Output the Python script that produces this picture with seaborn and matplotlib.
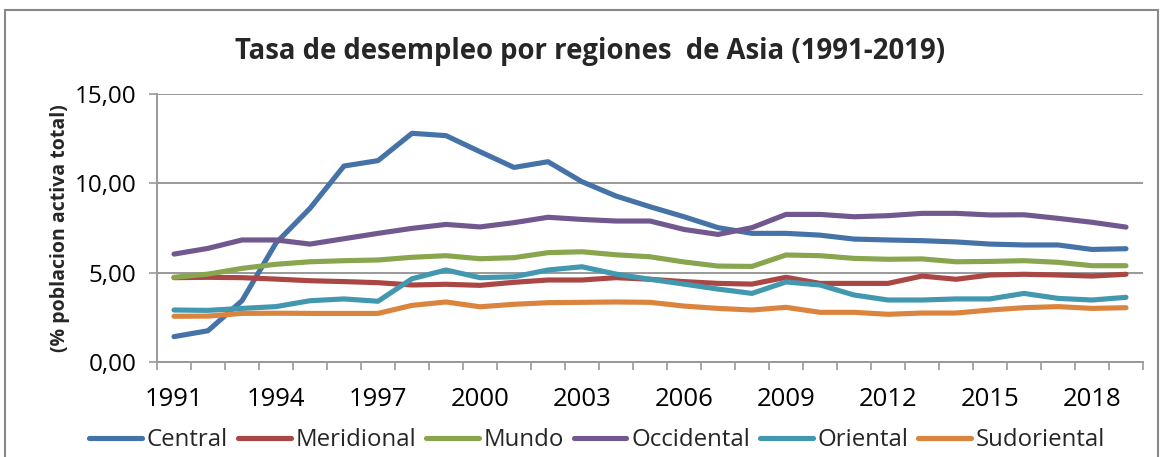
import numpy as np
import pandas as pd
import matplotlib
matplotlib.use("Agg")
import matplotlib.pyplot as plt
from matplotlib.ticker import FixedLocator, FuncFormatter
import seaborn as sns

years = list(range(1991, 2020))
central = [1.42, 1.75, 3.43, 6.66, 8.60, 10.97, 11.27, 12.80, 12.67, 11.77,
           10.89, 11.21, 10.09, 9.29, 8.69, 8.13, 7.52, 7.20, 7.20, 7.10,
           6.88, 6.83, 6.79, 6.72, 6.60, 6.55, 6.55, 6.30, 6.34]
meridional = [4.72, 4.74, 4.72, 4.64, 4.55, 4.50, 4.44, 4.31, 4.35, 4.29,
              4.46, 4.59, 4.59, 4.72, 4.63, 4.50, 4.40, 4.36, 4.74, 4.40,
              4.40, 4.40, 4.81, 4.63, 4.87, 4.91, 4.87, 4.81, 4.91]
mundo = [4.74, 4.92, 5.24, 5.47, 5.61, 5.67, 5.71, 5.86, 5.95, 5.78,
         5.84, 6.12, 6.17, 6.00, 5.89, 5.60, 5.37, 5.35, 5.99, 5.95,
         5.80, 5.75, 5.77, 5.61, 5.63, 5.67, 5.58, 5.39, 5.39]
occidental = [6.04, 6.36, 6.83, 6.83, 6.60, 6.90, 7.20, 7.48, 7.70, 7.56,
              7.80, 8.10, 7.98, 7.89, 7.89, 7.42, 7.14, 7.52, 8.26, 8.26,
              8.13, 8.19, 8.32, 8.32, 8.23, 8.24, 8.04, 7.82, 7.55]
oriental = [2.91, 2.89, 3.00, 3.10, 3.43, 3.53, 3.40, 4.66, 5.15, 4.72,
            4.77, 5.15, 5.33, 4.92, 4.63, 4.36, 4.08, 3.84, 4.48, 4.31,
            3.75, 3.47, 3.47, 3.53, 3.53, 3.84, 3.56, 3.47, 3.62]
sudoriental = [2.56, 2.57, 2.72, 2.73, 2.72, 2.72, 2.72, 3.17, 3.36, 3.09,
               3.23, 3.32, 3.34, 3.36, 3.34, 3.13, 3.00, 2.91, 3.06, 2.78,
               2.78, 2.67, 2.74, 2.74, 2.91, 3.04, 3.10, 3.00, 3.04]

series_names = ["Central", "Meridional", "Mundo", "Occidental", "Oriental", "Sudoriental"]
series_values = [central, meridional, mundo, occidental, oriental, sudoriental]
colors = ["#4572A7", "#AA4643", "#89A54E", "#71588F", "#4198AF", "#DB843D"]
title = "Tasa de desempleo por regiones  de Asia (1991-2019)"
ylabel = "(% poblacion activa total)"
y_ticks = [0, 5, 10, 15]
x_label_years = [1991, 1994, 1997, 2000, 2003, 2006, 2009, 2012, 2015, 2018]

rows = []
for name, vals in zip(series_names, series_values):
    for i, (yr, v) in enumerate(zip(years, vals)):
        rows.append({"idx": i, "year": yr, "value": v, "region": name})
df = pd.DataFrame(rows)

sns.set_theme(style="white")
plt.rcParams["font.family"] = ["Open Sans", "DejaVu Sans"]

fig = plt.figure(figsize=(11.64, 4.57), dpi=100)
ax = fig.add_axes([157 / 1164, 1 - 362 / 457, (1143 - 157) / 1164, (362 - 94) / 457])

sns.lineplot(data=df, x="idx", y="value", hue="region", hue_order=series_names,
             palette=colors, linewidth=3.7, ax=ax, legend=True,
             solid_capstyle="round", solid_joinstyle="round")

ax.set_xlim(-0.5, len(years) - 0.5)
ax.set_ylim(0, 15)
ax.yaxis.set_major_locator(FixedLocator(y_ticks))
ax.yaxis.set_major_formatter(FuncFormatter(lambda v, p: f"{v:.2f}".replace(".", ",")))
ax.grid(axis="y", color="#999999", linewidth=1.4)
ax.set_axisbelow(True)

label_pos = [years.index(y) for y in x_label_years]
ax.set_xticks(label_pos)
ax.set_xticklabels([str(y) for y in x_label_years])
ax.set_xticks(np.arange(-0.5, len(years), 1.0), minor=True)
ax.tick_params(axis="x", which="major", length=0, pad=18, labelsize=18.5, colors="black")
ax.tick_params(axis="x", which="minor", length=6, width=1.2, color="#999999", direction="out", bottom=True)
ax.tick_params(axis="y", which="major", length=6, width=1.2, color="#999999", direction="out",
               left=True, labelsize=17.5, pad=9, labelcolor="black")

for s in ["top", "right"]:
    ax.spines[s].set_visible(False)
for s in ["left", "bottom"]:
    ax.spines[s].set_color("#999999")
    ax.spines[s].set_linewidth(1.4)

ax.set_xlabel("")
ax.set_ylabel(ylabel, fontsize=14, fontweight="bold", labelpad=3)

handles, labels = ax.get_legend_handles_labels()
ax.get_legend().remove()
leg = fig.legend(handles, labels, loc="center", bbox_to_anchor=(0.513, 0.037), ncol=6,
                 frameon=False, fontsize=17.3, handlelength=2.2, handletextpad=0.2,
                 columnspacing=0.4, borderaxespad=0)
for h in leg.get_lines():
    h.set_linewidth(3.7)
    h.set_solid_capstyle("round")

fig.text(590 / 1164, 1 - 52 / 457, title, ha="center", va="center",
         fontsize=19.8, fontweight="bold")

# chart-area border
border = plt.Rectangle((5 / 1164, -0.1), (1158 - 5) / 1164, 1.1 - 10 / 457,
                       transform=fig.transFigure, fill=False, edgecolor="#888888",
                       linewidth=1.5)
fig.patches.append(border)

fig.savefig("out.png", dpi=100)
